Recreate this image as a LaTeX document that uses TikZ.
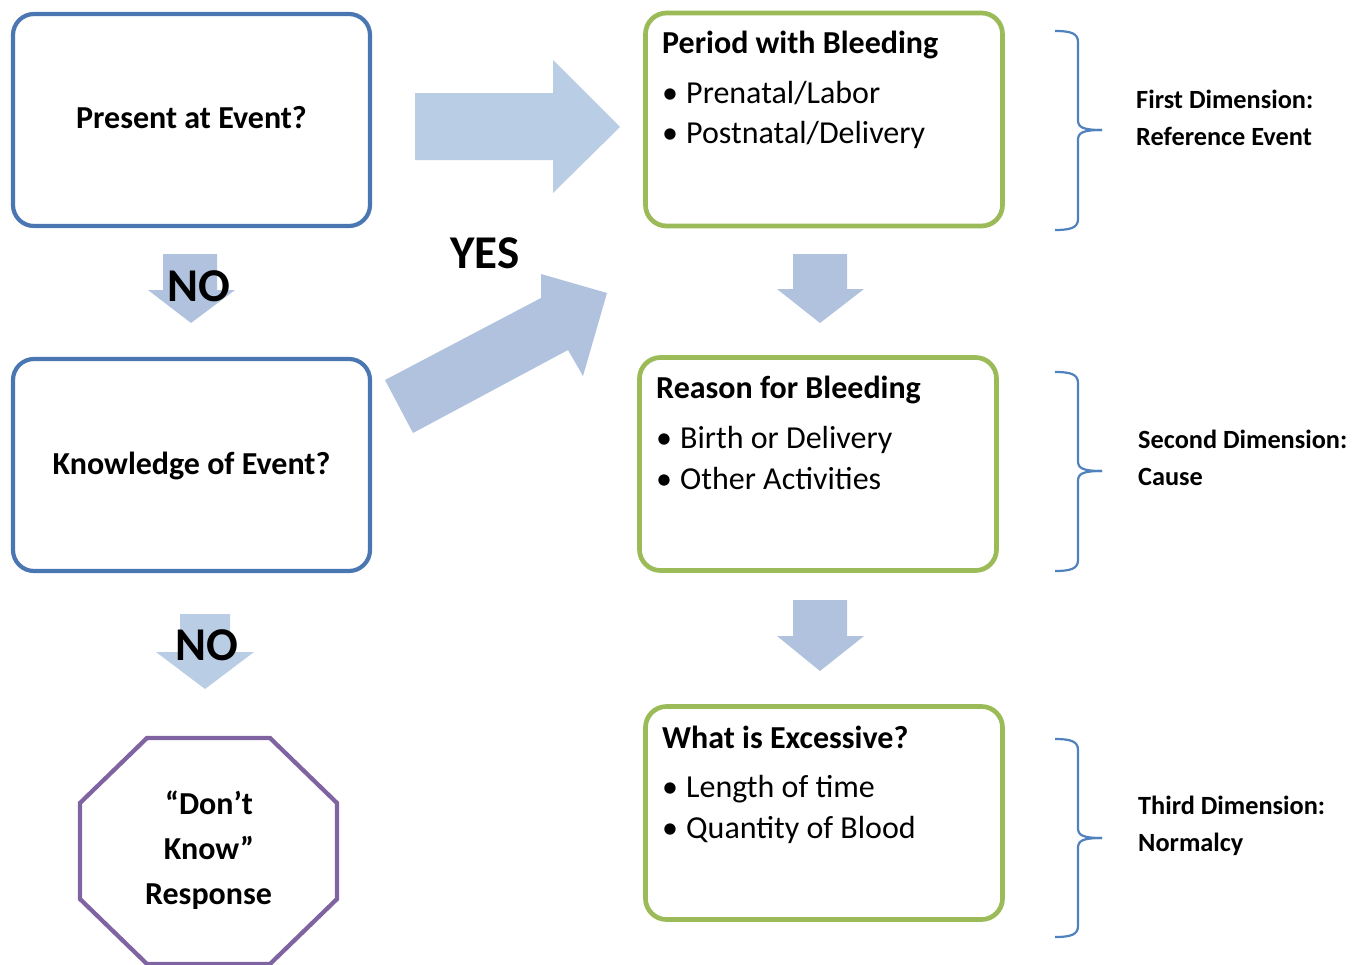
\documentclass[tikz,border=0pt]{standalone}
\usepackage{fontspec}
\setmainfont{Carlito}
\usetikzlibrary{calc}

\definecolor{boxblue}{RGB}{74,119,178}
\definecolor{boxgreen}{RGB}{155,187,89}
\definecolor{octpurple}{RGB}{128,100,162}
\definecolor{bracecol}{RGB}{79,129,189}
\definecolor{arrowlight}{RGB}{185,205,229}
\definecolor{arrowlav}{RGB}{177,194,222}

% curly brace opening to the right: x of tips, x of stem, top y, middle y, bottom y
\newcommand\dimbrace[5]{%
  \draw[bracelines] (#1,#3) .. controls ({#2-8},#3) and (#2,{#3+2}) .. (#2,{#3+11})
    -- (#2,{#4-10}) .. controls (#2,{#4-3}) and ({#2+4},#4) .. ({#2+24},#4);
  \draw[bracelines] ({#2+24},#4) .. controls ({#2+4},#4) and (#2,{#4+3}) .. (#2,{#4+10})
    -- (#2,{#5-11}) .. controls (#2,{#5-2}) and ({#2-8},#5) .. (#1,#5);
}

\begin{document}
\begin{tikzpicture}[x=1pt,y=-1pt,
  qbox/.style={draw=boxblue, line width=4.2pt, rounded corners=21pt,
    minimum width=357pt, minimum height=212pt, inner sep=0pt},
  dimbox/.style={draw=boxgreen, line width=4.7pt, rounded corners=21pt,
    minimum width=357pt, minimum height=213pt, inner sep=0pt},
  qtext/.style={font=\fontsize{32}{38}\selectfont\bfseries, anchor=base, inner sep=0pt},
  titletext/.style={font=\fontsize{32}{38}\selectfont\bfseries, anchor=base west, inner sep=0pt},
  itemtext/.style={font=\fontsize{32}{38}\selectfont, anchor=base west, inner sep=0pt},
  bulletmark/.style={font=\fontsize{32}{38}\selectfont, anchor=base, inner sep=0pt},
  answertext/.style={font=\fontsize{47}{52}\selectfont\bfseries, anchor=base, inner sep=0pt},
  dimtext/.style={font=\fontsize{26.3}{30}\selectfont\bfseries, anchor=base west, inner sep=0pt},
  bracelines/.style={draw=bracecol, line width=2.2pt},
]
\useasboundingbox (0,0) rectangle (1352,964);

% ---- block arrows ----
\fill[arrowlight] (415,93) -- (553,93) -- (553,60) -- (620,127) -- (553,193) -- (553,160) -- (415,160) -- cycle;
\fill[arrowlav] (385,380) -- (541,298) -- (541,274) -- (607,293) -- (583,376) -- (568,350) -- (413,433) -- cycle;
\fill[arrowlav] (163,254) -- (217,254) -- (217,290) -- (235,290) -- (191,323) -- (148,290) -- (163,290) -- cycle;
\fill[arrowlight] (180,614) -- (230,614) -- (230,652) -- (254,652) -- (205,689) -- (156,652) -- (180,652) -- cycle;
\fill[arrowlav] (793,254) -- (847,254) -- (847,289) -- (864,289) -- (820,323) -- (777,289) -- (793,289) -- cycle;
\fill[arrowlav] (793,600) -- (847,600) -- (847,636) -- (864,636) -- (820,671) -- (777,636) -- (793,636) -- cycle;

% ---- question boxes ----
\node[qbox] (q1) at (191.5,120) {};
\node[qtext] (q1t) at (191.5,128) {Present at Event?};
\node[qbox] (q2) at (191.5,465) {};
\node[qtext] (q2t) at (191.5,474) {Knowledge of Event?};

% ---- answers ----
\node[answertext] (no1) at (199,301) {NO};
\node[answertext] (no2) at (207,660) {NO};
\node[answertext] (yes) at (485,268) {YES};

% ---- "Don't know" octagon ----
\draw[octpurple, line width=4.3pt, line join=miter]
  (147,738) -- (270,738) -- (337,803) -- (337,899) -- (270,964) -- (147,964) -- (80,899) -- (80,803) -- cycle;
\node[qtext] (dk1) at (209,814) {“Don’t};
\node[qtext] (dk2) at (209,859) {Know”};
\node[qtext] (dk3) at (208.5,904) {Response};

% ---- dimension boxes ----
\node[dimbox] (pA) at (824,119.5) {};
\node[titletext] (pAt) at (662,53) {Period with Bleeding};
\node[bulletmark] (pAb1) at (670,103) {\textbullet};
\node[itemtext] (pAi1) at (686,103) {Prenatal/Labor};
\node[bulletmark] (pAb2) at (670,143) {\textbullet};
\node[itemtext] (pAi2) at (686,143) {Postnatal/Delivery};

\node[dimbox] (pB) at (818,464) {};
\node[titletext] (pBt) at (656,398) {Reason for Bleeding};
\node[bulletmark] (pBb1) at (664,448) {\textbullet};
\node[itemtext] (pBi1) at (680,448) {Birth or Delivery};
\node[bulletmark] (pBb2) at (664,489) {\textbullet};
\node[itemtext] (pBi2) at (680,489) {Other Activities};

\node[dimbox] (pC) at (824,813) {};
\node[titletext] (pCt) at (662,748) {What is Excessive?};
\node[bulletmark] (pCb1) at (670,797) {\textbullet};
\node[itemtext] (pCi1) at (686,797) {Length of time};
\node[bulletmark] (pCb2) at (670,838) {\textbullet};
\node[itemtext] (pCi2) at (686,838) {Quantity of Blood};

% ---- braces and dimension labels ----
\dimbrace{1055}{1078}{31}{130}{230}
\dimbrace{1055}{1078}{372}{471}{571}
\dimbrace{1055}{1078}{739}{838}{937}

\node[dimtext] (d1a) at (1136,108) {First Dimension:};
\node[dimtext] (d1b) at (1136,145) {Reference Event};
\node[dimtext] (d2a) at (1138,448) {Second Dimension:};
\node[dimtext] (d2b) at (1138,485) {Cause};
\node[dimtext] (d3a) at (1138,814) {Third Dimension:};
\node[dimtext] (d3b) at (1138,851) {Normalcy};
\end{tikzpicture}
\end{document}
